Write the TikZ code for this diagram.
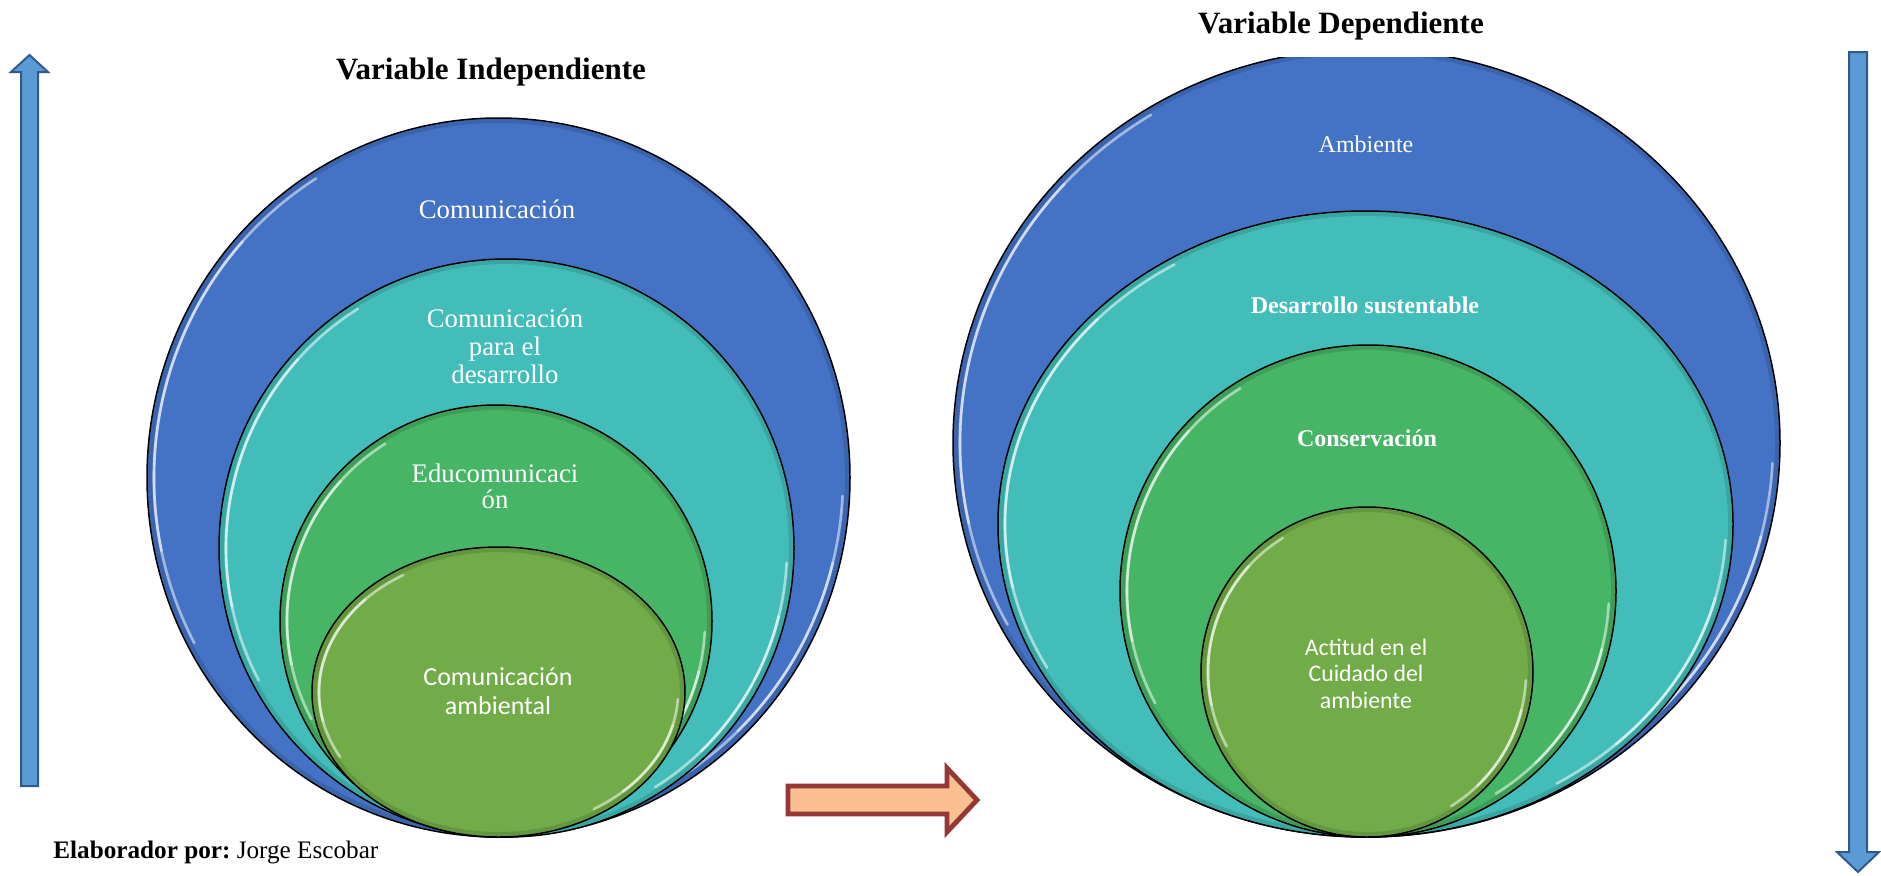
\documentclass[tikz,border=0pt]{standalone}
\usepackage{fontspec}
\setmainfont{Liberation Serif}
\newfontfamily\calibri{Carlito}
\definecolor{cblue}{HTML}{4472C4}
\definecolor{cteal}{HTML}{43BDB9}
\definecolor{cgreen}{HTML}{47B566}
\definecolor{colive}{HTML}{71AC48}
\definecolor{arrfill}{HTML}{5B9BD5}
\definecolor{arrline}{HTML}{2F5B8C}
\definecolor{orfill}{HTML}{FAC090}
\definecolor{orline}{HTML}{953735}
\tikzset{
  ring/.style={draw=black, line width=0.75pt},
  shadest/.style={draw=black, line width=2pt, opacity=0.12},
  glowst/.style={draw=white, line width=1.3pt, opacity=0.5, line cap=round},
  ttl/.style={inner sep=0pt, anchor=base, font=\fontsize{15.5}{18}\selectfont\bfseries},
  ctext/.style={inner sep=0pt, text=white, align=center},
  blarrow/.style={draw=arrline, fill=arrfill, line width=1pt, line join=miter},
  orarrow/.style={draw=orline, fill=orfill, line width=2.4pt, line join=miter}
}
\newcommand\myglow[4]{%
  \pgfmathsetmacro\gS{#3-3}\pgfmathsetmacro\gT{#4-3}%
  \draw[shadest] (#1,#2) ellipse[x radius=\gS, y radius=\gT];
  \pgfmathsetmacro\gA{#3-7}\pgfmathsetmacro\gB{#4-7}%
  \draw[glowst] (#1,#2) ++(-122:\gA\space and \gB) arc[start angle=-122, end angle=-208, x radius=\gA, y radius=\gB];
  \draw[glowst] (#1,#2) ++(-138:\gA\space and \gB) arc[start angle=-138, end angle=-192, x radius=\gA, y radius=\gB];
  \draw[glowst] (#1,#2) ++(3:\gA\space and \gB) arc[start angle=3, end angle=58, x radius=\gA, y radius=\gB];
  \draw[glowst] (#1,#2) ++(14:\gA\space and \gB) arc[start angle=14, end angle=46, x radius=\gA, y radius=\gB];
}
\begin{document}
\begin{tikzpicture}[x=0.5pt, y=-0.5pt]
\useasboundingbox (0,0) rectangle (1881,875);
\fill[white] (0,0) rectangle (1881,875);

% ---------- left group ----------
\fill[cblue] (498.5,477.5) ellipse[x radius=351.5, y radius=359.5];
\myglow{498.5}{477.5}{351.5}{359.5}
\draw[ring] (498.5,477.5) ellipse[x radius=351.5, y radius=359.5];

\fill[cteal] (506.5,548) ellipse[x radius=287.5, y radius=289];
\myglow{506.5}{548}{287.5}{289}
\draw[ring] (506.5,548) ellipse[x radius=287.5, y radius=289];

\fill[cgreen] (496,621) ellipse[x radius=216, y radius=216];
\myglow{496}{621}{216}{216}
\draw[ring] (496,621) ellipse[x radius=216, y radius=216];

\fill[colive] (498.5,692) ellipse[x radius=186.5, y radius=145];
\myglow{498.5}{692}{186.5}{145}
\draw[ring] (498.5,692) ellipse[x radius=186.5, y radius=145];

% ---------- right group ----------
\begin{scope}
\clip (900,57) rectangle (1881,900);
\fill[cblue] (1366.5,443) ellipse[x radius=413.5, y radius=394];
\myglow{1366.5}{443}{413.5}{394}
\draw[ring] (1366.5,443) ellipse[x radius=413.5, y radius=394];
\end{scope}

\fill[cteal] (1365.5,524) ellipse[x radius=367.5, y radius=313];
\myglow{1365.5}{524}{367.5}{313}
\draw[ring] (1365.5,524) ellipse[x radius=367.5, y radius=313];

\fill[cgreen] (1368,591) ellipse[x radius=248, y radius=246];
\myglow{1368}{591}{248}{246}
\draw[ring] (1368,591) ellipse[x radius=248, y radius=246];

\fill[colive] (1367,672) ellipse[x radius=166, y radius=165];
\myglow{1367}{672}{166}{165}
\draw[ring] (1367,672) ellipse[x radius=166, y radius=165];

% ---------- titles ----------
\node[ttl] (tind) at (491,79) {Variable Independiente};
\node[ttl] (tdep) at (1341,33) {Variable Dependiente};

% ---------- circle texts ----------
\node[ctext, anchor=base, font=\fontsize{13.4}{14}\selectfont] (lone) at (497,218) {Comunicación};
\node[ctext, font=\fontsize{13.4}{14}\selectfont] (ltwo) at (505,346) {Comunicación\\para el\\desarrollo};
\node[ctext, font=\fontsize{13.4}{13}\selectfont] (lthree) at (495,486) {Educomunicaci\\ón};
\node[ctext, font=\calibri\fontsize{13}{14.5}\selectfont] (lfour) at (498,691.5) {Comunicación\\ambiental};

\node[ctext, anchor=base, font=\fontsize{12}{14}\selectfont] (rone) at (1366,152) {Ambiente};
\node[ctext, anchor=base, font=\fontsize{12}{14}\selectfont\bfseries] (rtwo) at (1365,313) {Desarrollo sustentable};
\node[ctext, anchor=base, font=\fontsize{12}{14}\selectfont\bfseries] (rthree) at (1367,446) {Conservación};
\node[ctext, font=\calibri\fontsize{11.9}{13.25}\selectfont] (rfour) at (1366,673.5) {Actitud en el\\Cuidado del\\ambiente};

% ---------- credit ----------
\node[inner sep=0pt, anchor=base west, font=\fontsize{12.6}{15}\selectfont] (cred) at (53,858) {\textbf{Elaborador por:}\ Jorge Escobar};

% ---------- arrows ----------
\draw[blarrow] (29.5,55) -- (48,72) -- (38,72) -- (38,786) -- (21,786) -- (21,72) -- (11,72) -- cycle;
\draw[blarrow] (1849,52) -- (1867,52) -- (1867,852) -- (1879,852) -- (1858,872) -- (1837,852) -- (1849,852) -- cycle;
\draw[orarrow] (788,786) -- (947,786) -- (947,768) -- (977,800) -- (947,832) -- (947,814) -- (788,814) -- cycle;
\end{tikzpicture}
\end{document}
